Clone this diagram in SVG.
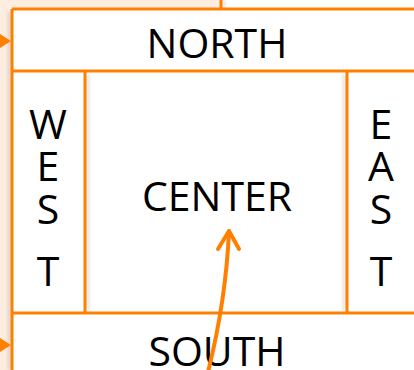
<svg xmlns="http://www.w3.org/2000/svg" width="414" height="370" viewBox="0 0 414 370">
  <style>
    .edge { stroke: #ff8000; stroke-width: 3; fill: none; }
    .lbl { font-family: "Open Sans", "Noto Sans", sans-serif; font-size: 41px; fill: #000; text-anchor: middle; }
    .arrow { stroke: #ff8000; stroke-width: 4; fill: none; stroke-linecap: round; stroke-linejoin: round; }
  </style>
  <defs>
    <filter id="shade" x="-50%" y="-10%" width="200%" height="120%">
      <feGaussianBlur stdDeviation="1.5"/>
    </filter>
  </defs>

  <!-- page background -->
  <rect x="0" y="0" width="414" height="370" fill="#ffffff"/>
  <rect x="0" y="0" width="12" height="370" fill="#fdece0"/>
  <rect x="0" y="0" width="221" height="9" fill="#fdece0"/>

  <!-- soft shadows beside the dividers -->
  <g opacity="0.35" filter="url(#shade)">
    <line x1="9" y1="12" x2="9" y2="370" stroke="#888" stroke-width="2"/>
    <line x1="88" y1="74" x2="88" y2="311" stroke="#888" stroke-width="2"/>
    <line x1="344" y1="74" x2="344" y2="311" stroke="#888" stroke-width="2"/>
    <line x1="224" y1="0" x2="224" y2="8" stroke="#888" stroke-width="2"/>
  </g>

  <g id="north">
    <line class="edge" x1="221" y1="0" x2="221" y2="9"/>
    <line class="edge" x1="12" y1="9" x2="414" y2="9"/>
    <text class="lbl" x="217" y="58">NORTH</text>
  </g>
  <g id="west">
    <line class="edge" x1="12" y1="9" x2="12" y2="370"/>
    <line class="edge" x1="12" y1="71" x2="414" y2="71"/>
    <text class="lbl" x="48" y="139">W</text>
    <text class="lbl" x="48" y="181">E</text>
    <text class="lbl" x="48" y="224">S</text>
    <text class="lbl" x="48" y="286">T</text>
  </g>
  <g id="center">
    <line class="edge" x1="85" y1="71" x2="85" y2="313"/>
    <text class="lbl" x="217" y="211">CENTER</text>
  </g>
  <g id="east">
    <line class="edge" x1="347" y1="71" x2="347" y2="313"/>
    <text class="lbl" x="381" y="139">E</text>
    <text class="lbl" x="381" y="181">A</text>
    <text class="lbl" x="381" y="224">S</text>
    <text class="lbl" x="381" y="286">T</text>
  </g>
  <g id="south">
    <line class="edge" x1="12" y1="313" x2="414" y2="313"/>
    <text class="lbl" x="217" y="366">SOUTH</text>
  </g>

  <g id="connectors">
    <polygon points="0,34 11,41 0,48" fill="#ff8000"/>
    <polygon points="0,338 11,345 0,352" fill="#ff8000"/>
    <path class="arrow" d="M208,372 Q226,300 229,231"/>
    <path class="arrow" d="M218,249 L229,231 L239,249"/>
  </g>
</svg>
